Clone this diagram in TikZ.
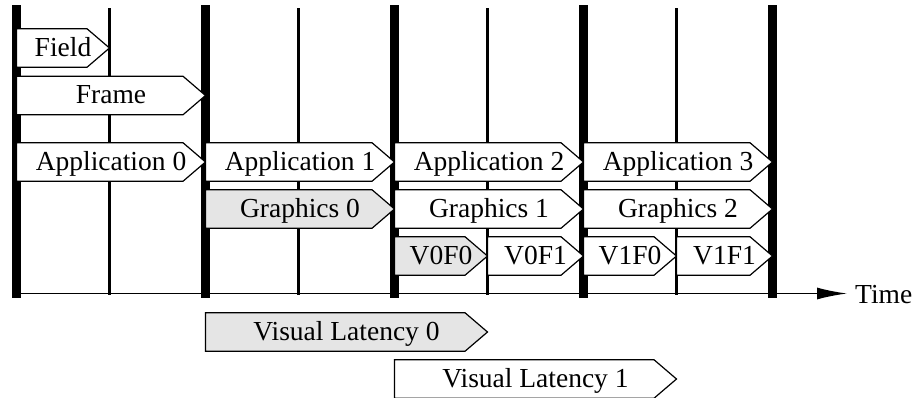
\documentclass[tikz,border=0pt]{standalone}
\usepackage{fontspec}
\setmainfont{Liberation Serif}
\usetikzlibrary{arrows.meta}

% frame boundaries (thick) and field boundaries (thin), x in px
\def\xA{16.5}\def\xB{205.5}\def\xC{394.5}\def\xD{583.5}\def\xE{772.5}
\def\hA{109.5}\def\hB{298.5}\def\hC{487.5}\def\hD{676.5}

\tikzset{
  framebar/.style={line width=9pt, black},
  fieldbar/.style={line width=3.5pt, black},
  boxline/.style={line width=1.2pt, black, line join=miter},
  lbl/.style={font=\fontsize{27.5}{31}\selectfont, inner sep=0pt, anchor=base},
  shaded/.style={fill=black!10},
  plain/.style={fill=white},
}

% arrow-shaped box: name, left x, tip x, centre y, style, text
\newcommand\sigbox[6]{%
  \draw[boxline,#5] (#2,#4-19.25) -- ({#3-22.5},#4-19.25) -- (#3,#4)
     -- ({#3-22.5},#4+19.25) -- (#2,#4+19.25) -- cycle;
  \node[lbl] (#1) at ({(#2+#3)/2},#4+8) {#6};
}

\begin{document}
\begin{tikzpicture}[x=1pt,y=-1pt]
\useasboundingbox (0,0) rectangle (916,397);

% time grid
\foreach \x in {\hA,\hB,\hC,\hD} \draw[fieldbar] (\x,8) -- (\x,295);
\foreach \x in {\xA,\xB,\xC,\xD,\xE} \draw[framebar] (\x,5) -- (\x,298);

% time axis
\coordinate (axisS) at (\xA,293.5);
\coordinate (axisE) at (847,293.5);
\node[lbl, anchor=base west] (time) at (855,303) {Time};
\draw[line width=1.5pt, -{Latex[length=30pt,width=12pt]}] (axisS) -- (axisE);

% field and frame
\sigbox{field}{\xA}{\hA}{48}{plain}{Field}
\sigbox{frame}{\xA}{\xB}{95.5}{plain}{Frame}

% application stage
\sigbox{app0}{\xA}{\xB}{162}{plain}{Application 0}
\sigbox{app1}{\xB}{\xC}{162}{plain}{Application 1}
\sigbox{app2}{\xC}{\xD}{162}{plain}{Application 2}
\sigbox{app3}{\xD}{\xE}{162}{plain}{Application 3}

% graphics stage
\sigbox{gfx0}{\xB}{\xC}{209}{shaded}{Graphics 0}
\sigbox{gfx1}{\xC}{\xD}{209}{plain}{Graphics 1}
\sigbox{gfx2}{\xD}{\xE}{209}{plain}{Graphics 2}

% video fields
\sigbox{v0f0}{\xC}{\hC}{256}{shaded}{V0F0}
\sigbox{v0f1}{\hC}{\xD}{256}{plain}{V0F1}
\sigbox{v1f0}{\xD}{\hD}{256}{plain}{V1F0}
\sigbox{v1f1}{\hD}{\xE}{256}{plain}{V1F1}

% visual latency
\sigbox{vl0}{\xB}{\hC}{332}{shaded}{Visual Latency 0}
\sigbox{vl1}{\xC}{\hD}{379}{plain}{Visual Latency 1}
\end{tikzpicture}
\end{document}
